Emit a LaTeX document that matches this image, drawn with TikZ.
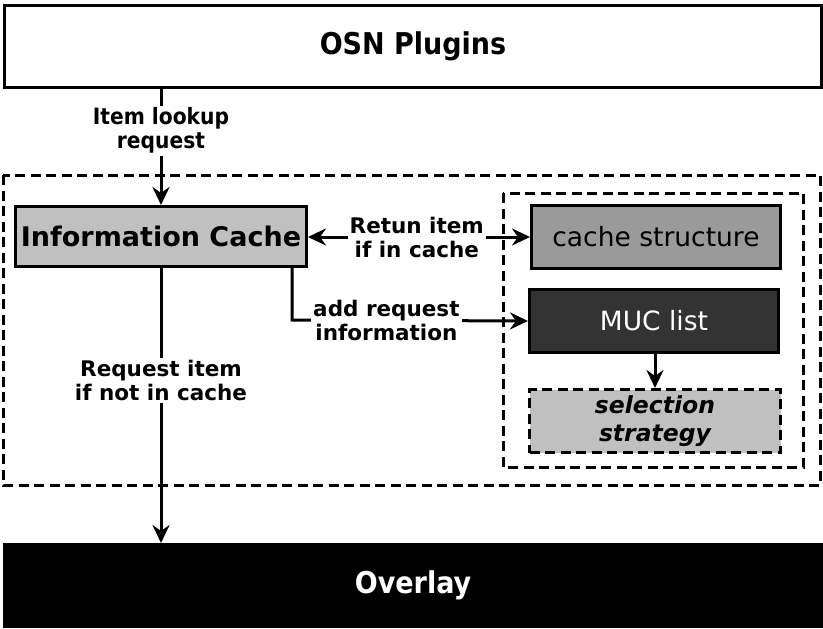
\documentclass[tikz,border=0pt]{standalone}
\usepackage{fontspec}
\setmainfont{DejaVu Sans}
\newfontfamily\condf{DejaVu Sans Condensed}
\usetikzlibrary{arrows.meta}
\definecolor{lgray}{HTML}{C0C0C0}
\definecolor{mgray}{HTML}{9A9A9A}
\definecolor{dgray}{HTML}{333333}
\tikzset{
  box/.style={draw=black, line width=3pt, inner sep=0pt, anchor=north west},
  lbl/.style={fill=white, inner sep=2pt, align=center, font=\fontsize{21.5}{24}\selectfont\bfseries},
  tip/.tip={Stealth[length=18pt,width=17pt,inset=6pt]},
  conn/.style={line width=3pt, -tip},
  dbox/.style={draw=black, line width=3pt, dash pattern=on 10pt off 5.5pt},
}
\begin{document}
\begin{tikzpicture}[x=1pt,y=-1pt]
\useasboundingbox (0,0) rectangle (823,629);
% boxes
\node[box, fill=white, minimum width=817pt, minimum height=82pt, font=\condf\fontsize{30}{34}\selectfont\bfseries] (osn) at (3,4) {OSN Plugins};
\draw[dbox] (3,175) rectangle (820,485);
\draw[dbox] (503,193) rectangle (803,467);
\node[box, fill=lgray, minimum width=291pt, minimum height=60pt, font=\fontsize{27}{30}\selectfont\bfseries] (ic) at (14,205) {Information Cache};
\node[box, fill=mgray, minimum width=249pt, minimum height=63pt, font=\fontsize{26.5}{30}\selectfont] (cs) at (530,204) {cache structure};
\node[box, fill=dgray, text=white, minimum width=249pt, minimum height=63pt, font=\fontsize{26.5}{30}\selectfont] (muc) at (528,288) {MUC list};
\node[box, fill=lgray, dash pattern=on 10pt off 5.5pt, minimum width=251pt, minimum height=63pt, align=center, font=\fontsize{23.5}{28}\selectfont\bfseries\itshape] (sel) at (528,388) {selection\\strategy};
\node[box, fill=black, text=white, minimum width=817pt, minimum height=82pt, font=\condf\fontsize{30}{34}\selectfont\bfseries] (ov) at (3,543) {Overlay};
% connectors
\draw[conn] (osn.south -| ic.north) -- node[lbl, font=\condf\fontsize{22.5}{24}\selectfont\bfseries, pos=0.36] {Item lookup\\request} (ic.north);
\draw[conn] (ic.south) -- node[lbl, pos=0.41] {Request item\\if not in cache} (ic.south |- ov.north);
\draw[line width=3pt, tip-tip] (ic.east |- cs.west) -- node[lbl, pos=0.49] {Retun item\\if in cache} (cs.west);
\coordinate (elb) at (292,320);
\draw[conn] (elb |- ic.south) -- (elb) -- node[lbl, pos=0.4] {add request\\information} (muc.west);
\draw[conn] (sel.north |- muc.south) -- (sel.north);
\end{tikzpicture}
\end{document}
